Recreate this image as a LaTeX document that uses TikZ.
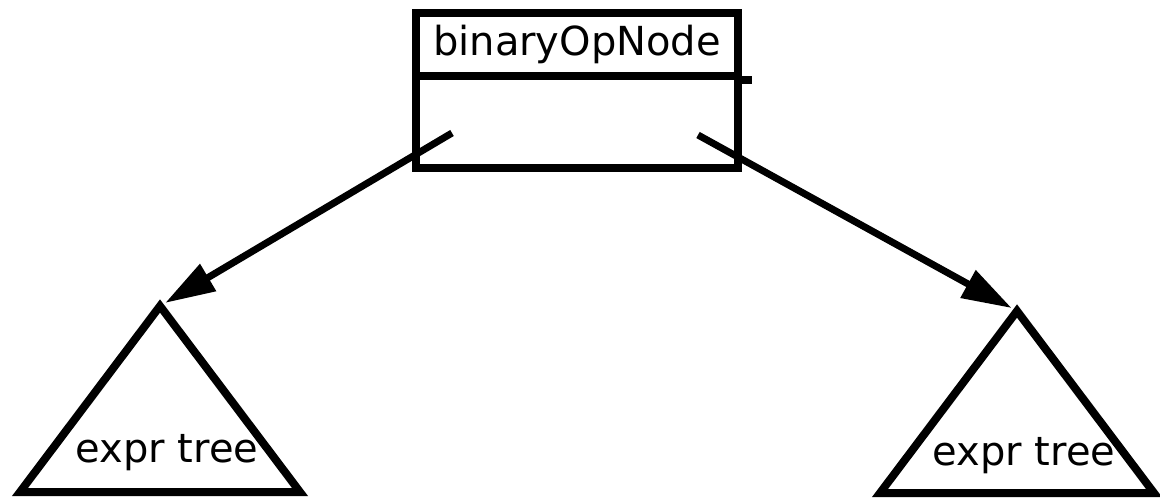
\documentclass[tikz,border=0pt]{standalone}
\usepackage{fontspec}
\setmainfont{DejaVu Sans}
\usetikzlibrary{arrows.meta}

\begin{document}
\begin{tikzpicture}[x=0.5pt,y=-0.5pt,
  cell/.style={draw,line width=4pt,minimum width=161pt,inner sep=0pt},
  tree/.style={line width=4pt,line join=miter},
  link/.style={line width=3.5pt,-{Triangle[length=25pt,width=15pt]},shorten >=3pt},
  lbl/.style={font=\fontsize{20}{24}\selectfont,inner sep=0pt,anchor=base}]
\useasboundingbox (0,0) rectangle (1160,499);
\node [cell,minimum height=31.5pt,font=\fontsize{20}{24}\selectfont] (head) at (577,44.5){binaryOpNode};
\node [cell,minimum height=46pt] (body) at (577,122){};
\draw [line width=4pt] (head.south east) -- ++(10,0);
\coordinate (lout) at (452,133);
\coordinate (rout) at (698,135);
\coordinate (ltop) at (160,306);
\coordinate (rtop) at (1017,311);
\draw [tree] (ltop) -- (20,492) -- (300,492) -- cycle;
\draw [tree] (rtop) -- (880,493) -- (1154,493) -- cycle;
\node [lbl] (ltext) at (167,462){expr tree};
\node [lbl] (rtext) at (1024,465){expr tree};
\draw [link] (lout) -- (ltop);
\draw [link] (rout) -- (rtop);
\end{tikzpicture}
\end{document}
